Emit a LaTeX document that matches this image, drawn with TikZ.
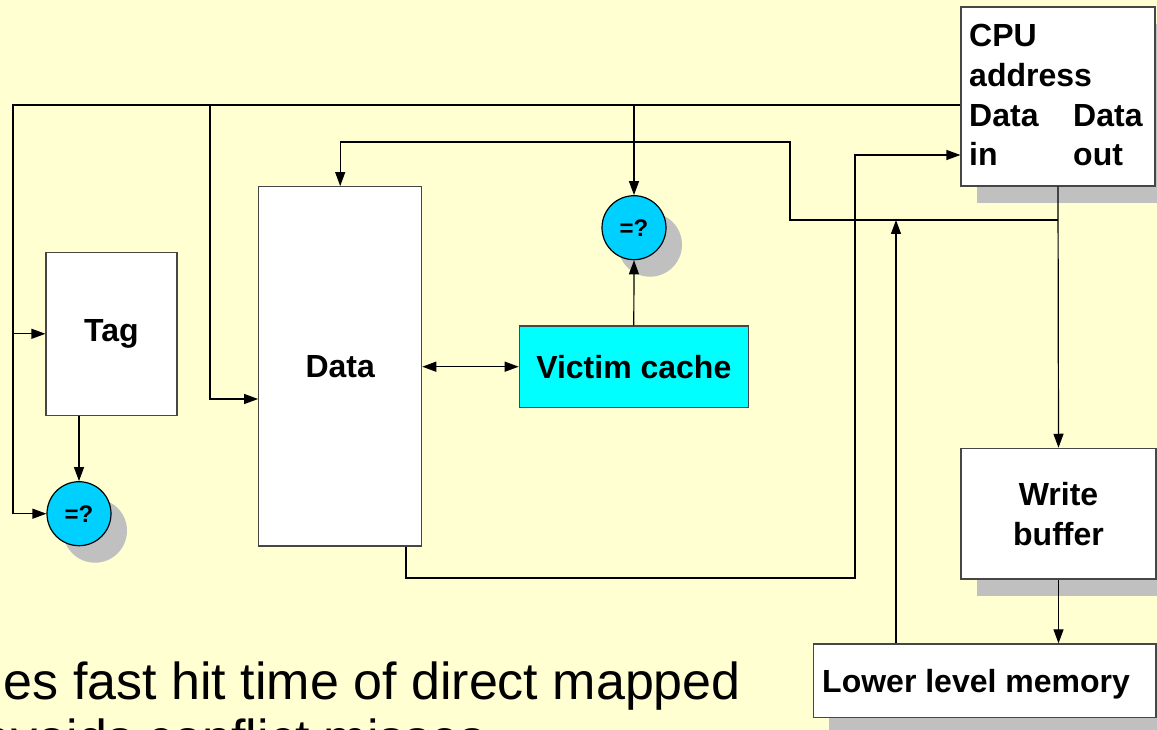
\documentclass[tikz,border=0pt]{standalone}
\usepackage{fontspec}
\setmainfont{Liberation Sans}
\usetikzlibrary{arrows.meta,shadows}
\definecolor{paper}{RGB}{255,255,210}
\definecolor{shgray}{RGB}{192,192,192}
\definecolor{cmpfill}{RGB}{0,208,255}
\definecolor{vcfill}{RGB}{0,255,255}
\definecolor{edge}{RGB}{70,70,70}
\begin{document}
\begin{tikzpicture}[x=1pt,y=-1pt,
  wire/.style={line width=1.2pt, black},
  arr/.style={wire, -{Triangle[length=14pt,width=10pt]}},
  darr/.style={wire, {Triangle[length=14pt,width=10pt]}-{Triangle[length=14pt,width=10pt]}},
  lbl/.style={font=\fontsize{32}{40}\selectfont\bfseries},
  blk/.style={draw=edge, line width=1.2pt, fill=white, inner sep=0pt, lbl, align=center},
  shd/.style={drop shadow={shadow xshift=16pt, shadow yshift=-17pt, fill=shgray, draw=none, opacity=1}},
  cmp/.style={circle, draw=black, line width=1.2pt, fill=cmpfill, minimum size=64pt, inner sep=0pt,
              font=\fontsize{24}{28}\selectfont\bfseries, shd},
  body/.style={font=\fontsize{52}{62}\selectfont, inner sep=0pt, anchor=base east},
]
\useasboundingbox (0,0) rectangle (1157,730);
\clip (0,0) rectangle (1157,730);
\fill[paper] (0,0) rectangle (1157,730);

% slide text below the diagram
\node[body] (t1) at (741,699) {es fast hit time of direct mapped};
\node[body] (t2) at (486,756) {avoids conflict misses};

% blocks
\node[blk, shd, minimum width=194pt, minimum height=179pt] (cpu) at (1058,96.5) {};
\node[lbl, anchor=base west, inner sep=0pt] (cpu1) at (969,47) {CPU};
\node[lbl, anchor=base west, inner sep=0pt] (cpu2) at (969,87) {address};
\node[lbl, anchor=base west, inner sep=0pt] (cpu3) at (969,127) {Data};
\node[lbl, anchor=base west, inner sep=0pt] (cpu4) at (969,166) {in};
\node[lbl, anchor=base west, inner sep=0pt] (cpu5) at (1073,127) {Data};
\node[lbl, anchor=base west, inner sep=0pt] (cpu6) at (1073,166) {out};

\node[blk, minimum width=131pt, minimum height=163pt] (tag) at (111.5,333.8) {Tag};
\node[blk, minimum width=163pt, minimum height=359.3pt] (data) at (340.2,366.3) {Data};
\node[blk, fill=vcfill, minimum width=229pt, minimum height=81.3pt] (victim) at (633.8,366.7) {Victim cache};
\node[blk, shd, minimum width=195pt, minimum height=130.7pt] (wb) at (1058.5,513.7) {Write\\buffer};
\node[blk, shd, minimum width=342.7pt, minimum height=73.7pt] (llm) at (984.7,680.8) {};
\node[lbl, anchor=base west, inner sep=0pt] (llmtxt) at (822,692) {Lower level memory};

\node[cmp] (eq1) at (634,227.7) {=?};
\node[cmp] (eq2) at (79,513.7) {=?};

% routing points of the buses
\coordinate (abus) at (0,105);
\coordinate (lft) at (13,0);
\coordinate (mid) at (210,0);
\coordinate (dA) at (0,399);
\coordinate (dbus) at (0,220);
\coordinate (jog) at (790,142);
\coordinate (dout) at (406,578);
\coordinate (din) at (855,155);
\coordinate (upx) at (896,0);

% address bus
\draw[wire] (cpu.west |- abus) -- (lft |- abus) -- (lft |- eq2);
\draw[arr] (lft |- eq2) -- (eq2.west);
\draw[arr] (lft |- tag) -- (tag.west);
\draw[arr] (mid |- abus) |- (data.west |- dA);
\draw[arr] (eq1.north |- abus) -- (eq1.north);

% data out of the CPU
\draw[arr] (cpu.south) -- (wb.north);
\draw[arr] (cpu.south |- dbus) -| (jog) -| (data.north);
\draw[arr] (wb.south) -- (llm.north -| wb.south);
\draw[arr] (llm.north -| upx) -- (upx |- dbus);

% data into the CPU
\draw[arr] (data.south -| dout) -- (dout) -| (din) -- (cpu.west |- din);

% victim cache and tag checks
\draw[darr] (data.east |- victim) -- (victim.west);
\draw[arr] (victim.north) -- (eq1.south);
\draw[arr] (eq2.north |- tag.south) -- (eq2.north);
\end{tikzpicture}
\end{document}
